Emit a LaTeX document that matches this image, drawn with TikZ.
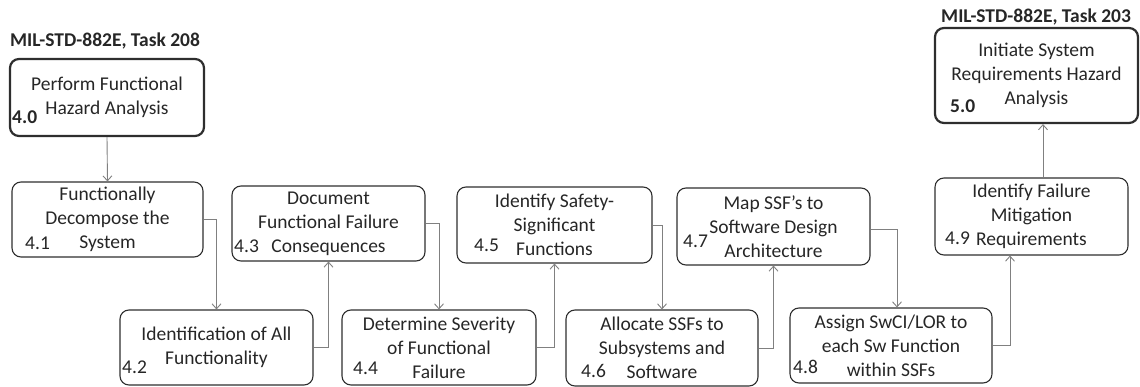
\documentclass[tikz,border=0pt]{standalone}
\usepackage{fontspec}
\setmainfont{Carlito}
\usetikzlibrary{arrows.meta,calc}
\definecolor{boxline}{HTML}{2E2E2E}
\definecolor{connline}{HTML}{808080}
\definecolor{inktext}{HTML}{262626}
\newcommand\boxfont{\fontsize{19.5}{24}\selectfont}
\newcommand\titlefont{\fontsize{19.5}{22}\selectfont\bfseries}
\begin{document}
\begin{tikzpicture}[x=1pt,y=-1pt,
  stepbox/.style={draw=boxline, line width=1.1pt, rounded corners=9pt,
    inner sep=0pt, align=center, font=\boxfont, text=inktext},
  keybox/.style={stepbox, line width=2.2pt},
  numlbl/.style={anchor=base west, inner sep=0pt, font=\boxfont, text=inktext},
  keynum/.style={numlbl, font=\boxfont\bfseries},
  tasklbl/.style={anchor=base west, inner sep=0pt, font=\titlefont, text=inktext},
  conn/.style={draw=connline, line width=0.9pt,
    -{Straight Barb[length=5pt,width=9pt]}}
]
\useasboundingbox (0,0) rectangle (1140,387);

% task references
\node[tasklbl] (t208) at (10,47) {MIL-STD-882E, Task 208};
\node[tasklbl] (t203) at (941,23) {MIL-STD-882E, Task 203};

% process steps
\node[keybox, minimum width=194pt, minimum height=77pt] (b40) at (107,97.5)
  {Perform Functional\\Hazard Analysis};
\node[stepbox, minimum width=191pt, minimum height=75pt] (b41) at (107.5,219.5)
  {Functionally\\Decompose the\\System};
\node[stepbox, minimum width=193pt, minimum height=75pt] (b42) at (216.5,347.5)
  {Identification of All\\Functionality};
\node[stepbox, minimum width=193pt, minimum height=75pt] (b43) at (328.5,223.5)
  {Document\\Functional Failure\\Consequences};
\node[stepbox, minimum width=194pt, minimum height=75pt] (b44) at (439,347.5)
  {Determine Severity\\of Functional\\Failure};
\node[stepbox, minimum width=195pt, minimum height=76pt] (b45) at (554.5,225)
  {Identify Safety-\\Significant\\Functions};
\node[stepbox, minimum width=192pt, minimum height=76pt] (b46) at (662,348)
  {Allocate SSFs to\\Subsystems and\\Software};
\node[stepbox, minimum width=193pt, minimum height=77pt] (b47) at (773.5,226.5)
  {Map SSF's to\\Software Design\\Architecture};
\node[stepbox, minimum width=202pt, minimum height=75pt] (b48) at (891,345.5)
  {Assign SwCI/LOR to\\each Sw Function\\within SSFs};
\node[stepbox, minimum width=193pt, minimum height=77pt] (b49) at (1031.5,216.5)
  {Identify Failure\\Mitigation\\Requirements};
\node[keybox, minimum width=203pt, minimum height=95pt] (b50) at (1036.5,75.5)
  {Initiate System\\Requirements Hazard\\Analysis};

% step numbers
\node[keynum] (n40) at (12,124) {4.0};
\node[numlbl] (n41) at (25,250) {4.1};
\node[numlbl] (n42) at (122,373) {4.2};
\node[numlbl] (n43) at (234,253) {4.3};
\node[numlbl] (n44) at (353,374) {4.4};
\node[numlbl] (n45) at (474,252) {4.5};
\node[numlbl] (n46) at (581,377) {4.6};
\node[numlbl] (n47) at (683,248) {4.7};
\node[numlbl] (n48) at (793,373) {4.8};
\node[numlbl] (n49) at (945,245) {4.9};
\node[keynum] (n50) at (950,113) {5.0};

% flow
\draw[conn] (b40.south) -- (b41.north);
\draw[conn] (b41.east) -| (b42.north);
\draw[conn] (b42.east) -| (b43.south);
\draw[conn] (b43.east) -| (b44.north);
\draw[conn] (b44.east) -| (b45.south);
\draw[conn] (b45.east) -| (b46.north);
\draw[conn] (b46.east) -| (b47.south);
\draw[conn] ([yshift=-3pt]b47.east) -| ([xshift=6pt]b48.north);
\draw[conn] (b48.east) -| ([xshift=-21.5pt]b49.south);
\draw[conn] ([xshift=11.5pt]b49.north) -- ([xshift=11.5pt]b49.north |- b50.south);
\end{tikzpicture}
\end{document}
